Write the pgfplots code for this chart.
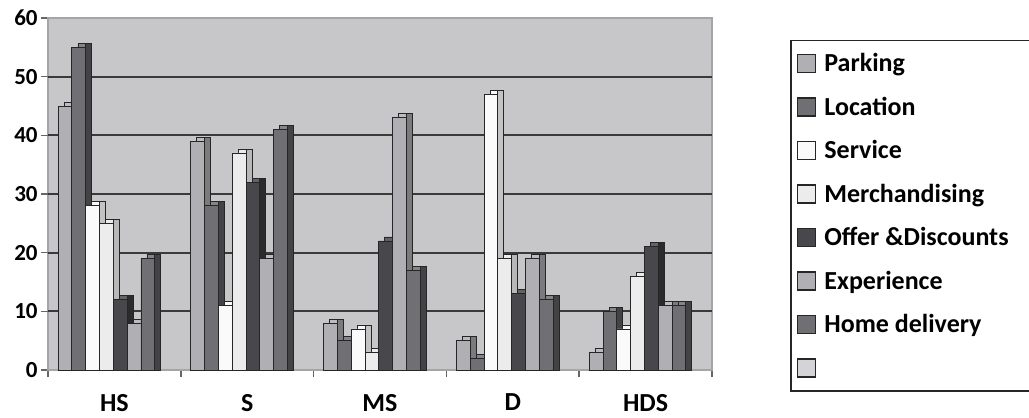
\documentclass[border=0pt]{standalone}
\usepackage{pgfplots}
\pgfplotsset{compat=1.18}
\usepackage{pgfplotstable}
\usepackage{fontspec}
\setmainfont{Carlito}

\definecolor{bgc}{RGB}{199,199,201}
\definecolor{cP}{RGB}{176,176,180}
\definecolor{cL}{RGB}{112,112,116}
\definecolor{cS}{RGB}{250,250,250}
\definecolor{cM}{RGB}{236,236,236}
\definecolor{cO}{RGB}{72,72,76}
\definecolor{cE}{RGB}{176,176,180}
\definecolor{cH}{RGB}{112,112,116}
\definecolor{cX}{RGB}{212,212,214}
\definecolor{edge}{RGB}{38,38,38}
\definecolor{gridc}{RGB}{58,58,58}
\definecolor{framec}{RGB}{165,165,167}

\pgfplotstableread{
x P L S M O E H
0 45 55 28 25 12 8 19
1 39 28 11 37 32 19 41
2 8 5 7 3 22 43 17
3 5 2 47 19 13 19 12
4 3 10 7 16 21 11 11
}\data

\pgfplotsset{
  sq legend/.style={legend image code/.code={\draw[##1, line width=0.8pt] (0pt,-4.5pt) rectangle (9pt,4.5pt);}},
  topb/.style={ybar, forget plot, bar width=6.9pt, draw=edge, line width=0.4pt},
  sideb/.style={ybar, forget plot, bar width=3pt, draw=edge, line width=0.4pt},
  frontb/.style={ybar, bar width=6.9pt, draw=edge, line width=0.4pt, sq legend},
}

\begin{document}
\begin{tikzpicture}
\useasboundingbox (0,0) rectangle (514.5pt,209pt);
\begin{axis}[
  at={(24pt,24pt)}, anchor=south west,
  scale only axis, width=332pt, height=176pt,
  xmin=-0.5, xmax=4.5, ymin=0, ymax=60,
  axis background/.style={fill=bgc},
  axis line style={draw=framec, line width=1pt},
  xtick={-0.5,0.5,1.5,2.5,3.5,4.5},
  x tick label as interval,
  xticklabels={HS,S,MS,D,HDS},
  ytick={0,10,...,60},
  yticklabels={0,10,20,30,40,50,60},
  extra y ticks={10,20,30,40,50},
  extra y tick labels={},
  extra y tick style={grid=major},
  grid style={draw=gridc, line width=1pt},
  tick align=outside,
  xtick pos=bottom, ytick pos=left,
  major tick length=3.5pt,
  tick style={draw=gray!80!black, line width=0.8pt},
  yticklabel style={font=\fontsize{11.5}{13}\selectfont\bfseries, inner sep=1.5pt},
  xticklabel style={font=\fontsize{13}{15}\selectfont\bfseries, yshift=-5pt},
  legend style={at={(1.1175,0.938)}, anchor=north west, draw=edge, line width=0.8pt,
    fill=white, font=\fontsize{13}{15}\selectfont\bfseries,
    nodes={inner xsep=4pt, inner ysep=0pt, text height=10pt, text depth=2pt},
    row sep=9.75pt, inner xsep=3pt, inner ysep=5.5pt},
  legend cell align=left,
]
% top faces
\addplot[topb, bar shift=-21.7pt, fill=cP!85!white] table[x=x, y expr=\thisrow{P}+0.68] {\data};
\addplot[topb, bar shift=-14.8pt, fill=cL!85!white] table[x=x, y expr=\thisrow{L}+0.68] {\data};
\addplot[topb, bar shift=-7.9pt, fill=cS] table[x=x, y expr=\thisrow{S}+0.68] {\data};
\addplot[topb, bar shift=-1.0pt, fill=cM] table[x=x, y expr=\thisrow{M}+0.68] {\data};
\addplot[topb, bar shift=5.9pt, fill=cO!85!white] table[x=x, y expr=\thisrow{O}+0.68] {\data};
\addplot[topb, bar shift=12.8pt, fill=cE!85!white] table[x=x, y expr=\thisrow{E}+0.68] {\data};
\addplot[topb, bar shift=19.7pt, fill=cH!85!white] table[x=x, y expr=\thisrow{H}+0.68] {\data};
% side faces
\addplot[sideb, bar shift=-19.75pt, fill=cP!70!black] table[x=x, y expr=\thisrow{P}+0.68] {\data};
\addplot[sideb, bar shift=-12.85pt, fill=cL!60!black] table[x=x, y expr=\thisrow{L}+0.68] {\data};
\addplot[sideb, bar shift=-5.95pt, fill=cS!78!black] table[x=x, y expr=\thisrow{S}+0.68] {\data};
\addplot[sideb, bar shift=0.95pt, fill=cM!78!black] table[x=x, y expr=\thisrow{M}+0.68] {\data};
\addplot[sideb, bar shift=7.85pt, fill=cO!60!black] table[x=x, y expr=\thisrow{O}+0.68] {\data};
\addplot[sideb, bar shift=14.75pt, fill=cE!70!black] table[x=x, y expr=\thisrow{E}+0.68] {\data};
\addplot[sideb, bar shift=21.65pt, fill=cH!60!black] table[x=x, y expr=\thisrow{H}+0.68] {\data};
% front faces
\addplot[frontb, bar shift=-24.7pt, fill=cP] table[x=x, y=P] {\data};
\addlegendentry{Parking}
\addplot[frontb, bar shift=-17.8pt, fill=cL] table[x=x, y=L] {\data};
\addlegendentry{Location}
\addplot[frontb, bar shift=-10.9pt, fill=cS] table[x=x, y=S] {\data};
\addlegendentry{Service}
\addplot[frontb, bar shift=-4.0pt, fill=cM] table[x=x, y=M] {\data};
\addlegendentry{Merchandising}
\addplot[frontb, bar shift=2.9pt, fill=cO] table[x=x, y=O] {\data};
\addlegendentry{Offer \&Discounts\hspace*{10pt}}
\addplot[frontb, bar shift=9.8pt, fill=cE] table[x=x, y=E] {\data};
\addlegendentry{Experience}
\addplot[frontb, bar shift=16.7pt, fill=cH] table[x=x, y=H] {\data};
\addlegendentry{Home delivery}
\addlegendimage{sq legend, fill=cX, draw=edge}
\addlegendentry{}
\end{axis}
\end{tikzpicture}
\end{document}
